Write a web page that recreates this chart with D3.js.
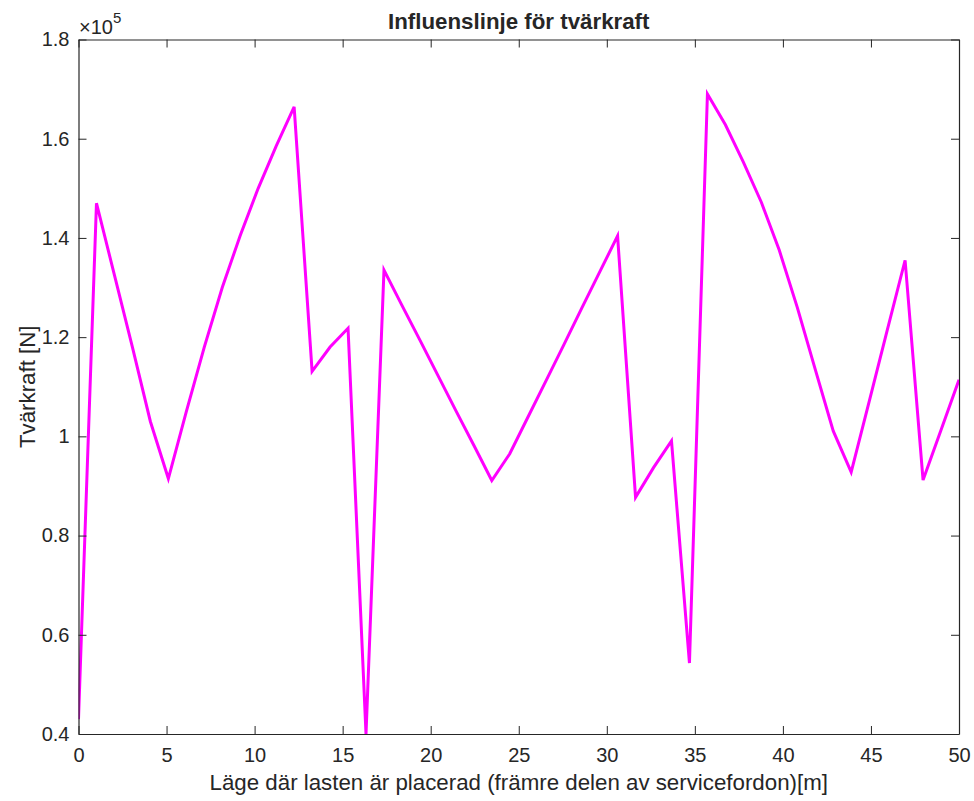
<!DOCTYPE html>
<html>
<head>
<meta charset="utf-8">
<script src="https://cdn.jsdelivr.net/npm/d3@7/dist/d3.min.js"></script>
<style>
  html, body { margin: 0; padding: 0; background: #ffffff; }
  svg { display: block; }
  text { font-family: "Liberation Sans", Arial, Helvetica, sans-serif; fill: #262626; }
</style>
</head>
<body>
<svg id="chart" width="974" height="801"></svg>
<script>
// Load position [m] (front of service vehicle)
const positions = [0, 1.0204, 2.0408, 3.0612, 4.0816, 5.1020, 6.1224, 7.1429, 8.1633, 9.1837,
  10.2041, 11.2245, 12.2449, 13.2653, 14.2857, 15.3061, 16.3265, 17.3469, 18.3673, 19.3878,
  20.4082, 21.4286, 22.4490, 23.4694, 24.4898, 25.5102, 26.5306, 27.5510, 28.5714, 29.5918,
  30.6122, 31.6327, 32.6531, 33.6735, 34.6939, 35.7143, 36.7347, 37.7551, 38.7755, 39.7959,
  40.8163, 41.8367, 42.8571, 43.8776, 44.8980, 45.9184, 46.9388, 47.9592, 48.9796, 50];
// Shear force [N]
const shearForce = [43000, 147000, 132500, 118000, 103000, 91500, 105000, 118000, 130000, 140500,
  150000, 158500, 166400, 113100, 118000, 121800, 40000, 133500, 126400, 119400,
  112300, 105200, 98200, 91100, 96500, 103800, 111100, 118400, 125800, 133100,
  140400, 87700, 93700, 99100, 54300, 169000, 162800, 155300, 147200, 137500,
  126000, 113500, 101100, 92800, 107000, 121300, 135500, 91200, 101300, 111400];
const xTicks = [0, 5, 10, 15, 20, 25, 30, 35, 40, 45, 50];
const yTicks = [40000, 60000, 80000, 100000, 120000, 140000, 160000, 180000];
const yTickLabels = ["0.4", "0.6", "0.8", "1", "1.2", "1.4", "1.6", "1.8"];
const titleText = "Influenslinje för tvärkraft";
const xLabelText = "Läge där lasten är placerad (främre delen av servicefordon)[m]";
const yLabelText = "Tvärkraft [N]";

const svg = d3.select("#chart");
const L = 78.5, R = 959, T = 39.5, B = 734;
const x = d3.scaleLinear().domain([0, 50]).range([L, R]);
const y = d3.scaleLinear().domain([40000, 180000]).range([B, T]);
const axisColor = "#262626";
const tickLen = 8;
const tickFont = "20px";
const labelFont = "22.3px";

svg.append("defs").append("clipPath").attr("id", "clip")
  .append("rect").attr("x", L).attr("y", T - 2).attr("width", R - L).attr("height", B - T + 2);

// Data line
const data = positions.map((p, i) => ({ x: p, y: shearForce[i] }));
svg.append("path")
  .datum(data)
  .attr("clip-path", "url(#clip)")
  .attr("fill", "none")
  .attr("stroke", "#ff00ff")
  .attr("stroke-width", 3)
  .attr("stroke-linejoin", "miter")
  .attr("d", d3.line().x(d => x(d.x)).y(d => y(d.y)));

// Axes: bottom
const xAxisB = d3.axisBottom(x).tickValues(xTicks).tickSizeInner(-tickLen).tickSizeOuter(0)
  .tickPadding(14).tickFormat(d3.format("d"));
const gB = svg.append("g").attr("transform", `translate(0,${B})`).call(xAxisB);
// top
const xAxisT = d3.axisTop(x).tickValues(xTicks).tickSizeInner(-tickLen).tickSizeOuter(0).tickFormat("");
const gT = svg.append("g").attr("transform", `translate(0,${T})`).call(xAxisT);
// left
const yAxisL = d3.axisLeft(y).tickValues(yTicks).tickSizeInner(-tickLen).tickSizeOuter(0)
  .tickPadding(9).tickFormat((d, i) => yTickLabels[i]);
const gL = svg.append("g").attr("transform", `translate(${L},0)`).call(yAxisL);
// right
const yAxisR = d3.axisRight(y).tickValues(yTicks).tickSizeInner(-tickLen).tickSizeOuter(0).tickFormat("");
const gR = svg.append("g").attr("transform", `translate(${R},0)`).call(yAxisR);

[gB, gT, gL, gR].forEach(g => {
  g.select(".domain").attr("stroke", axisColor).attr("stroke-width", 1.2);
  g.selectAll(".tick line").attr("stroke", axisColor).attr("stroke-width", 1);
  g.selectAll(".tick text").attr("fill", axisColor)
    .style("font-family", '"Liberation Sans", Arial, sans-serif').style("font-size", tickFont);
});

// Exponent label
const expo = svg.append("text").attr("x", 79).attr("y", 34).style("font-size", tickFont);
expo.append("tspan").style("font-size", tickFont).text("×10");
expo.append("tspan").attr("dy", -11).style("font-size", "15px").text("5");

// Title
svg.append("text").attr("x", (L + R) / 2).attr("y", 29).attr("text-anchor", "middle")
  .style("font-size", labelFont).style("font-weight", "bold").attr("fill", "#000").text(titleText);

// X label
svg.append("text").attr("x", (L + R) / 2).attr("y", 790).attr("text-anchor", "middle")
  .style("font-size", labelFont).text(xLabelText);

// Y label
svg.append("text").attr("transform", `translate(35,${(T + B) / 2}) rotate(-90)`)
  .attr("text-anchor", "middle").style("font-size", labelFont).text(yLabelText);
</script>
</body>
</html>
